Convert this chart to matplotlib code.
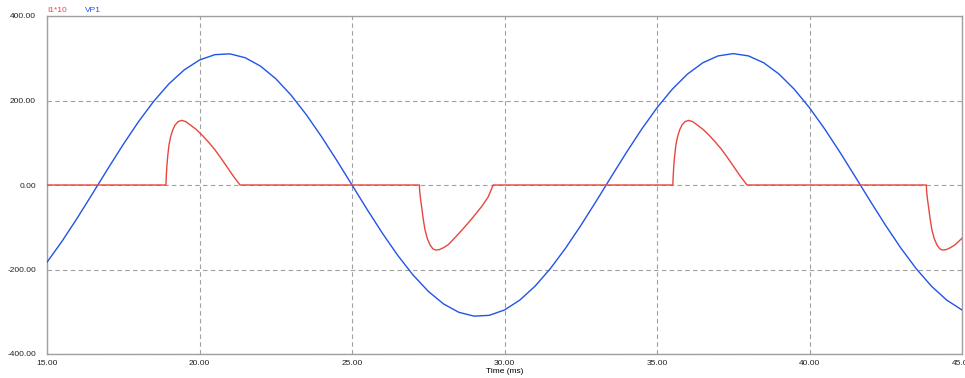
import numpy as np
import matplotlib
matplotlib.use("Agg")
import matplotlib.pyplot as plt
from matplotlib.ticker import FormatStrFormatter

plt.rcParams['font.family'] = ['Liberation Sans', 'DejaVu Sans']

# VP1, sampled every 0.5 ms from 15 to 45 ms
vp1_t = np.arange(15.0, 45.01, 0.5)
vp1 = [-182.8, -132.4, -77.3, -19.5, 39.0, 96.1, 149.8, 198.2, 239.6, 272.5,
       295.8, 308.5, 310.4, 301.2, 281.4, 251.6, 212.9, 166.6, 114.5, 58.3,
       0.0, -58.3, -114.5, -166.6, -212.9, -251.6, -281.4, -301.2, -310.4, -308.5,
       -295.8, -272.5, -239.6, -198.2, -149.8, -96.1, -39.0, 19.5, 77.3, 132.4,
       182.8, 226.7, 262.6, 289.2, 305.5, 311.0, 305.5, 289.2, 262.6, 226.7,
       182.8, 132.4, 77.3, 19.5, -39.0, -96.1, -149.8, -198.2, -239.6, -272.5,
       -295.8]

# I1*10 trace
i1_t = [15.00,
        18.90, 18.91, 18.93, 18.96, 19.00, 19.05, 19.12, 19.20, 19.30, 19.42,
        19.55, 19.70, 19.90, 20.10, 20.30, 20.50, 20.70, 20.90, 21.10, 21.33,
        27.21, 27.22, 27.25, 27.28, 27.33, 27.39, 27.47, 27.56, 27.65, 27.74,
        27.86, 28.01, 28.16, 28.41, 28.70, 28.96, 29.25, 29.46, 29.63,
        35.52, 35.53, 35.55, 35.58, 35.62, 35.67, 35.74, 35.82, 35.92, 36.04,
        36.17, 36.32, 36.52, 36.72, 36.92, 37.12, 37.32, 37.52, 37.72, 37.95,
        43.83, 43.84, 43.87, 43.90, 43.95, 44.01, 44.09, 44.18, 44.27, 44.36,
        44.48, 44.63, 44.78, 45.00]
i1 = [0,
      0, 20, 45, 70, 95, 113, 130, 142, 150, 153,
      150, 142, 131, 117, 101, 84, 64, 43, 22, 0,
      0, -15, -35, -50, -78, -105, -127, -142, -151, -154,
      -153, -148, -141, -122, -99, -77, -51, -29, 0,
      0, 20, 45, 70, 95, 113, 130, 142, 150, 153,
      150, 142, 131, 117, 101, 84, 64, 43, 22, 0,
      0, -15, -35, -50, -78, -105, -127, -142, -151, -154,
      -153, -148, -141, -126]

x_ticks = [15, 20, 25, 30, 35, 40, 45]
y_ticks = [-400, -200, 0, 200, 400]

red = '#e8463e'
blue = '#2253e8'
grey = '#a0a0a0'

fig = plt.figure(figsize=(9.65, 3.78), dpi=100)
ax = fig.add_axes([47 / 965, 1 - 354 / 378, 915 / 965, 338 / 378])

ax.grid(True, color=grey, linestyle=(0, (4, 3)), linewidth=0.8)
ax.plot(vp1_t, vp1, color=blue, linewidth=1.0, zorder=3)
ax.plot(i1_t, i1, color=red, linewidth=1.0, zorder=3)

ax.set_xlim(15, 45)
ax.set_ylim(-400, 400)
ax.set_xticks(x_ticks)
ax.set_yticks(y_ticks)
ax.xaxis.set_major_formatter(FormatStrFormatter('%.2f'))
ax.yaxis.set_major_formatter(FormatStrFormatter('%.2f'))
ax.tick_params(length=0, labelsize=6, colors='#222222')
ax.tick_params(axis='y', pad=8)
ax.tick_params(axis='x', pad=4)
for s in ax.spines.values():
    s.set_color(grey)
    s.set_linewidth(1.0)

ax.set_xlabel('Time (ms)', fontsize=6, labelpad=1)

fig.text(47 / 965, 1 - 10 / 378, 'I1*10', color=red, fontsize=6, va='center')
fig.text(85 / 965, 1 - 10 / 378, 'VP1', color=blue, fontsize=6, va='center')

fig.savefig('out.png', dpi=100)
